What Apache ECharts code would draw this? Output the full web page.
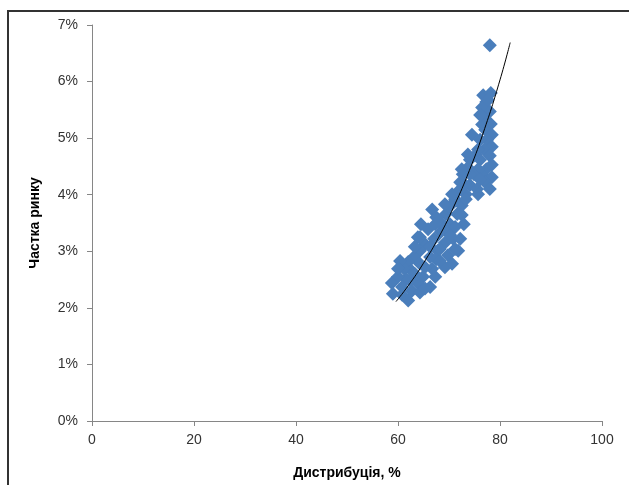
<!DOCTYPE html>
<html>
<head>
<meta charset="utf-8">
<script src="https://cdn.jsdelivr.net/npm/echarts@6/dist/echarts.min.js"></script>
<style>
  html, body { margin: 0; padding: 0; background: #fff; }
  #chart { width: 629px; height: 485px; }
</style>
</head>
<body>
<div id="chart"></div>
<script>
    // точки: дистрибуція (%) та частка ринку (%)
    var distribution = [
        78.0, 76.7, 78.2, 77.3, 76.5, 78.0, 76.9, 78.2, 77.1, 78.4,
        77.5, 78.4, 76.9, 78.0, 76.1, 78.4, 77.3, 76.7, 78.4, 77.1,
        78.0, 75.7, 74.5, 75.3, 74.1, 73.7, 74.9, 72.7, 72.2, 74.1,
        73.3, 71.8, 71.2, 72.5, 70.2, 71.6, 69.4, 68.2, 70.2, 66.7,
        67.5, 64.5, 65.9, 68.4, 63.9, 67.1, 65.3, 69.2, 70.8, 71.8,
        69.8, 67.8, 64.3, 66.3, 63.1, 62.0, 64.3, 69.2, 66.7, 62.7,
        61.2, 64.9, 61.6, 66.3, 63.9, 60.0, 58.8, 60.8, 62.7, 59.0,
        60.8, 62.0, 64.3, 67.5, 72.9, 72.5, 75.5, 76.1, 75.7, 73.3,
        60.4, 60.0, 63.3, 65.3, 62.4, 65.3, 67.3, 68.2, 70.6, 68.2,
        70.2, 69.2, 71.2, 72.2, 71.2, 66.3, 67.3, 69.2, 70.6, 73.1,
        74.1, 72.5, 73.7, 75.7, 76.1, 76.5, 76.1, 77.6, 63.3, 64.3
    ];
    var share = [
        6.64, 5.76, 5.80, 5.64, 5.54, 5.47, 5.36, 5.25, 5.15, 5.06,
        4.97, 4.85, 4.80, 4.69, 4.62, 4.53, 4.45, 4.34, 4.31, 4.22,
        4.10, 4.45, 5.06, 4.71, 4.62, 4.48, 4.36, 4.36, 4.22, 4.17,
        4.01, 4.06, 3.92, 3.81, 3.80, 3.66, 3.66, 3.53, 3.48, 3.74,
        3.60, 3.48, 3.39, 3.34, 3.25, 3.22, 3.13, 3.15, 3.22, 3.01,
        2.93, 3.01, 3.01, 2.90, 2.90, 2.81, 2.78, 2.72, 2.69, 2.65,
        2.69, 2.55, 2.51, 2.37, 2.43, 2.55, 2.44, 2.37, 2.30, 2.25,
        2.23, 2.13, 2.27, 2.86, 3.48, 3.64, 4.10, 4.27, 4.01, 3.92,
        2.83, 2.69, 2.60, 2.72, 2.48, 2.34, 2.55, 2.83, 2.78, 3.04,
        3.29, 3.43, 3.43, 3.22, 3.04, 3.08, 3.48, 3.83, 4.01, 4.18,
        4.36, 4.45, 4.71, 4.80, 4.97, 5.24, 5.41, 5.68, 3.08, 3.25
    ];
    // лінія тренду (експоненційна)
    var trendX = [59.6, 62, 65, 68, 71, 74, 77, 80, 82];
    var trendY = [2.11, 2.39, 2.79, 3.25, 3.80, 4.43, 5.17, 6.03, 6.69];

    var xTicks = [0, 20, 40, 60, 80, 100];

    var font = 'Liberation Sans';

    var container = document.getElementById('chart');
    var myChart = echarts.init(container);

    var points = distribution.map(function (d, i) { return [d, share[i]]; });
    var trend = trendX.map(function (d, i) { return [d, trendY[i]]; });

    myChart.setOption({
        animation: false,
        grid: { left: 92, right: 27, top: 25, bottom: 62 },
        graphic: [
            {
                type: 'rect',
                shape: { x: 8, y: 11, width: 700, height: 600 },
                style: { fill: 'none', stroke: '#333', lineWidth: 2 },
                silent: true
            }
        ],
        xAxis: {
            type: 'value',
            min: xTicks[0],
            max: xTicks[xTicks.length - 1],
            interval: 20,
            name: 'Дистрибуція, %',
            nameLocation: 'middle',
            nameGap: 45,
            nameTextStyle: { fontFamily: font, fontSize: 14, fontWeight: 'bold', color: '#000' },
            axisLine: { lineStyle: { color: '#868686' } },
            axisTick: { show: true, length: 5, lineStyle: { color: '#868686' } },
            axisLabel: { fontFamily: font, fontSize: 14, color: '#333', margin: 12 },
            splitLine: { show: false }
        },
        yAxis: {
            type: 'value',
            min: 0,
            max: 7,
            interval: 1,
            name: 'Частка ринку',
            nameLocation: 'middle',
            nameGap: 50,
            nameTextStyle: { fontFamily: font, fontSize: 14, fontWeight: 'bold', color: '#000' },
            axisLine: { show: true, lineStyle: { color: '#868686' } },
            axisTick: { show: true, length: 5, lineStyle: { color: '#868686' } },
            axisLabel: { fontFamily: font, fontSize: 14, color: '#333', margin: 14, formatter: '{value}%' },
            splitLine: { show: false }
        },
        series: [
            {
                type: 'scatter',
                data: points,
                symbol: 'diamond',
                symbolSize: 14,
                itemStyle: { color: '#4a7ebb', opacity: 1 }
            },
            {
                type: 'line',
                data: trend,
                smooth: true,
                showSymbol: false,
                lineStyle: { color: '#000', width: 1 },
                z: 3
            }
        ]
    });
</script>
</body>
</html>
